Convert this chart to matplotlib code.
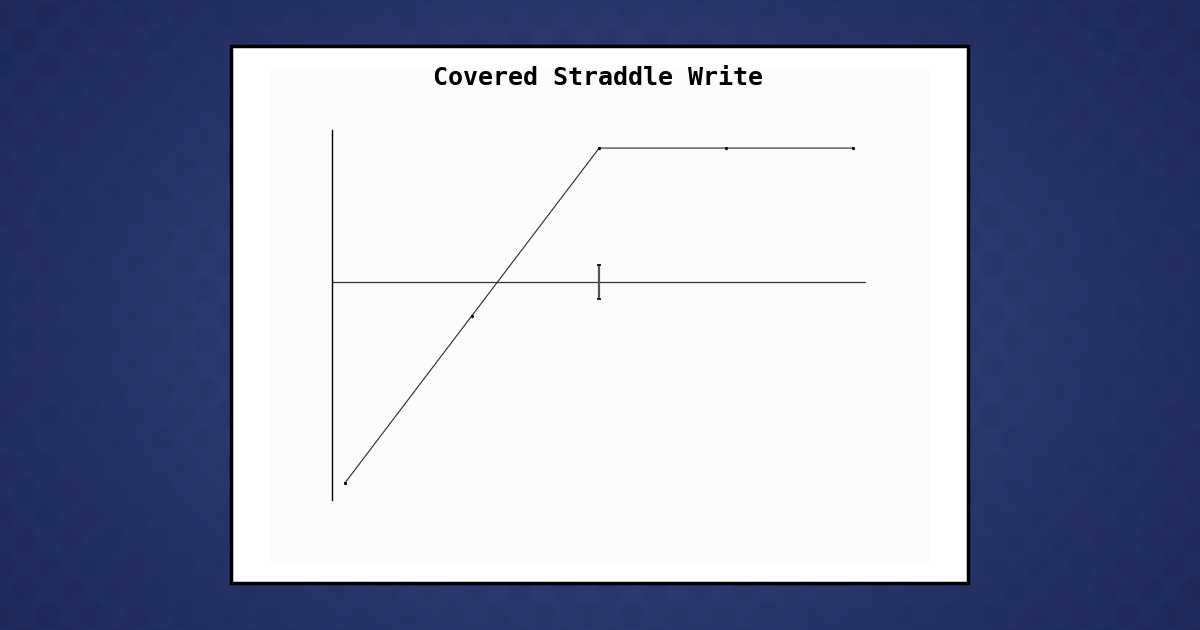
import numpy as np
import matplotlib
matplotlib.use("Agg")
import matplotlib.pyplot as plt
from matplotlib.patches import Rectangle, RegularPolygon

# ---- data ----
title = "Covered Straddle Write"
stock_price = [80, 90, 100, 110, 120]
payoff = [-60, -10, 40, 40, 40]
strike = 100
strike_tick = [-5, 5]

W, H = 1200, 630
fig = plt.figure(figsize=(W / 100, H / 100), dpi=100)

# background radial gradient
bg = fig.add_axes([0, 0, 1, 1], zorder=0)
bg.set_axis_off()
yy, xx = np.mgrid[0:H, 0:W]
r = np.sqrt(((xx - 600) / 720) ** 2 + ((yy - 320) / 500) ** 2)
r = np.clip(r, 0, 1)
c_in = np.array([0x3b, 0x49, 0x82]) / 255
c_out = np.array([0x1f, 0x2a, 0x5d]) / 255
img = c_in[None, None, :] * (1 - r[..., None]) + c_out[None, None, :] * r[..., None]
bg.imshow(img, extent=[0, W, H, 0], aspect="auto", interpolation="bilinear")
bg.set_xlim(0, W)
bg.set_ylim(H, 0)
# subtle hexagon pattern
for row, y0 in enumerate(np.arange(-10, H + 30, 25)):
    off = 22.5 if row % 2 else 0
    for x0 in np.arange(-20, W + 50, 45):
        bg.add_patch(RegularPolygon((x0 + off, y0), 6, radius=14,
                                    orientation=np.pi / 2,
                                    facecolor="black", alpha=0.025, lw=0))

# card
bg.add_patch(Rectangle((231, 46), 737, 537, facecolor="white",
                       edgecolor="black", lw=2.5, zorder=3))
bg.add_patch(Rectangle((270, 68), 660, 494, facecolor="#fcfcfc",
                       edgecolor="none", zorder=4))
bg.text(598, 78, title, ha="center", va="center", fontsize=18,
        family="DejaVu Sans Mono", fontweight="bold", color="black", zorder=5)

# chart axes: pixel box x 332..866, y 130..500
x0p, x1p, y0p, y1p = 332, 866, 130, 500
ax = fig.add_axes([x0p / W, 1 - y1p / H, (x1p - x0p) / W, (y1p - y0p) / H], zorder=2)
ax.patch.set_alpha(0)
ax.set_xlim(78.98, 121.0)
ax.set_ylim(-65.1, 45.4)
for s in ["top", "right", "bottom"]:
    ax.spines[s].set_visible(False)
ax.spines["left"].set_linewidth(1.0)
ax.spines["left"].set_color("black")
ax.set_xticks([])
ax.set_yticks([])
ax.axhline(0, color="#333333", lw=0.9)
ax.plot([strike, strike], strike_tick, color="#555555", lw=1.6, solid_capstyle="butt")
ax.plot([strike, strike], strike_tick, ls="none", marker="_", ms=3.5, mew=1.2, color="black")
ax.plot(stock_price, payoff, color="#2a2a2a", lw=0.8, marker="o", ms=1.3,
        mfc="black", mec="black")

fig.savefig("out.png", dpi=100)
